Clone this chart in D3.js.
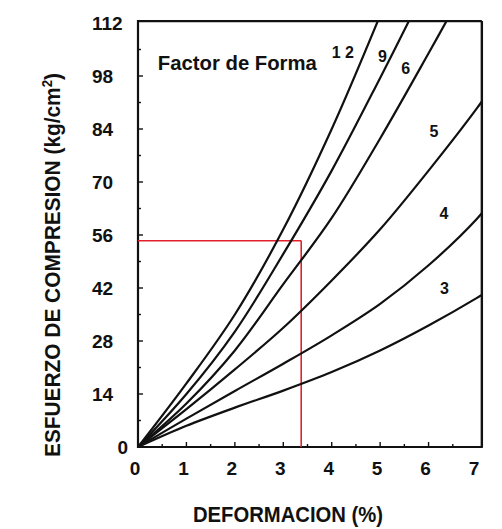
<!DOCTYPE html>
<html>
<head>
<meta charset="utf-8">
<script src="https://cdn.jsdelivr.net/npm/d3@7/dist/d3.min.js"></script>
<style>
  html, body { margin: 0; padding: 0; background: #fff; }
  svg { display: block; }
  text { font-family: "Liberation Sans", Arial, Helvetica, sans-serif; font-weight: bold; fill: #111; }
</style>
</head>
<body>
<svg id="chart" width="502" height="529"></svg>
<script>
// ---- data ----
const xTicks = [0, 1, 2, 3, 4, 5, 6, 7];
const yTicks = [0, 14, 28, 42, 56, 70, 84, 98, 112];
const xMinorTicks = [0.5, 1.5, 2.5, 3.5, 4.5, 5.5, 6.5];
const yMinorTicks = [7, 21, 35, 49, 63, 77, 91, 105];

const curveFactor12 = [[0,0],[1,16.8],[2,35],[3,57.5],[4,84],[5,114]];
const curveFactor9  = [[0,0],[1,14],[2,30.5],[3,51],[4,73],[5,97.5],[5.75,116.5]];
const curveFactor6  = [[0,0],[1,11.5],[2,25.5],[3,43],[4,60.5],[5,81.5],[6,104],[6.5,115.5]];
const curveFactor5  = [[0,0],[1,10],[2,20.5],[3,31.5],[4,44],[5,57.5],[6,73],[7,89.5],[7.3,95]];
const curveFactor4  = [[0,0],[1,7.5],[2,14.8],[3,22],[4,29.5],[5,37.8],[6,48],[7,60.3],[7.3,65]];
const curveFactor3  = [[0,0],[1,5.6],[2,10.4],[3,14.9],[4,19.8],[5,25.5],[6,32.1],[7,39.4],[7.3,41.8]];
const curves = [curveFactor12, curveFactor9, curveFactor6, curveFactor5, curveFactor4, curveFactor3];

const curveLabels = ["1 2", "9", "6", "5", "4", "3"];
const curveLabelPos = [[4.23,104.2],[5.05,103.3],[5.53,100],[6.11,83.5],[6.32,61.8],[6.33,42]];

const designPoint = [3.37, 54.5];   // red reference lines

const xTitle = "DEFORMACION (%)";
const yTitle = "ESFUERZO DE COMPRESION (kg/cm";
const legendTitle = "Factor de Forma";

// ---- scales ----
const svg = d3.select("#chart");
const x = d3.scaleLinear().domain([0, 7]).range([138, 477]);
const y = d3.scaleLinear().domain([0, 112]).range([447, 23]);
const xMax = 7.1, yMax = 112.5;

// clip
svg.append("defs").append("clipPath").attr("id", "plotclip")
  .append("rect")
  .attr("x", x(0)).attr("y", y(yMax))
  .attr("width", x(xMax) - x(0)).attr("height", y(0) - y(yMax));

// frame
const frame = svg.append("g").attr("stroke", "#111").attr("fill", "none");
frame.append("line").attr("x1", x(0)).attr("x2", x(xMax)).attr("y1", y(yMax)).attr("y2", y(yMax)).attr("stroke-width", 2.2);
frame.append("line").attr("x1", x(xMax)).attr("x2", x(xMax)).attr("y1", y(yMax)).attr("y2", y(0)).attr("stroke-width", 2.4);
frame.append("line").attr("x1", x(0)).attr("x2", x(0)).attr("y1", y(yMax) - 1).attr("y2", y(0) + 1).attr("stroke-width", 2.2);
frame.append("line").attr("x1", x(0) - 1).attr("x2", x(xMax) + 1).attr("y1", y(0)).attr("y2", y(0)).attr("stroke-width", 2.2);

// ticks (inward)
const ticks = svg.append("g").attr("stroke", "#111").attr("stroke-width", 1.4);
ticks.selectAll(".yt").data(yTicks.slice(1, -1)).join("line")
  .attr("x1", x(0)).attr("x2", x(0) + 5).attr("y1", d => y(d)).attr("y2", d => y(d));
ticks.selectAll(".ytm").data(yMinorTicks).join("line")
  .attr("x1", x(0)).attr("x2", x(0) + 3).attr("y1", d => y(d)).attr("y2", d => y(d));
ticks.selectAll(".xt").data(xTicks.slice(1, -1)).join("line")
  .attr("x1", d => x(d)).attr("x2", d => x(d)).attr("y1", y(0)).attr("y2", y(0) - 5);
ticks.selectAll(".xtm").data(xMinorTicks).join("line")
  .attr("x1", d => x(d)).attr("x2", d => x(d)).attr("y1", y(0)).attr("y2", y(0) - 3);

// tick labels
svg.append("g").selectAll("text").data(yTicks).join("text")
  .attr("x", d => d === 0 ? 128 : 92)
  .attr("y", d => y(d))
  .attr("dy", "0.36em")
  .attr("text-anchor", d => d === 0 ? "end" : "start")
  .attr("font-size", 19)
  .text(d => d);

svg.append("g").selectAll("text").data(xTicks).join("text")
  .attr("x", d => x(d) - 3)
  .attr("y", 475)
  .attr("text-anchor", "middle")
  .attr("font-size", 19)
  .text(d => d);

// red reference lines
const red = svg.append("g").attr("stroke", "#e3202a").attr("stroke-width", 1.6).attr("fill", "none");
red.append("line").attr("x1", x(0)).attr("x2", x(designPoint[0]))
  .attr("y1", y(designPoint[1])).attr("y2", y(designPoint[1]));
red.append("line").attr("x1", x(designPoint[0])).attr("x2", x(designPoint[0]))
  .attr("y1", y(designPoint[1])).attr("y2", y(0));

// curves
const line = d3.line().x(d => x(d[0])).y(d => y(d[1])).curve(d3.curveCatmullRom.alpha(0.5));
svg.append("g").attr("clip-path", "url(#plotclip)")
  .selectAll("path").data(curves).join("path")
  .attr("d", line)
  .attr("fill", "none")
  .attr("stroke", "#111")
  .attr("stroke-width", 2.2)
  .attr("stroke-linejoin", "round");

// curve labels
svg.append("g").selectAll("text").data(curveLabels).join("text")
  .attr("x", (d, i) => x(curveLabelPos[i][0]))
  .attr("y", (d, i) => y(curveLabelPos[i][1]))
  .attr("dy", "0.36em")
  .attr("text-anchor", "middle")
  .attr("font-size", 16)
  .text(d => d);

// legend title
svg.append("text")
  .attr("x", x(0.41)).attr("y", y(99.6))
  .attr("font-size", 20)
  .attr("textLength", 159).attr("lengthAdjust", "spacingAndGlyphs")
  .text(legendTitle);

// axis titles
svg.append("text")
  .attr("x", 288).attr("y", 522)
  .attr("text-anchor", "middle")
  .attr("font-size", 22)
  .attr("textLength", 190).attr("lengthAdjust", "spacingAndGlyphs")
  .text(xTitle);

const yt = svg.append("text")
  .attr("transform", "translate(60,265) rotate(-90)")
  .attr("text-anchor", "middle")
  .attr("font-size", 22)
  .attr("textLength", 384).attr("lengthAdjust", "spacingAndGlyphs");
yt.append("tspan").text(yTitle);
yt.append("tspan").attr("font-size", 14).attr("dy", "-0.6em").text("2");
yt.append("tspan").attr("dy", "0.38em").text(")");
</script>
</body>
</html>
